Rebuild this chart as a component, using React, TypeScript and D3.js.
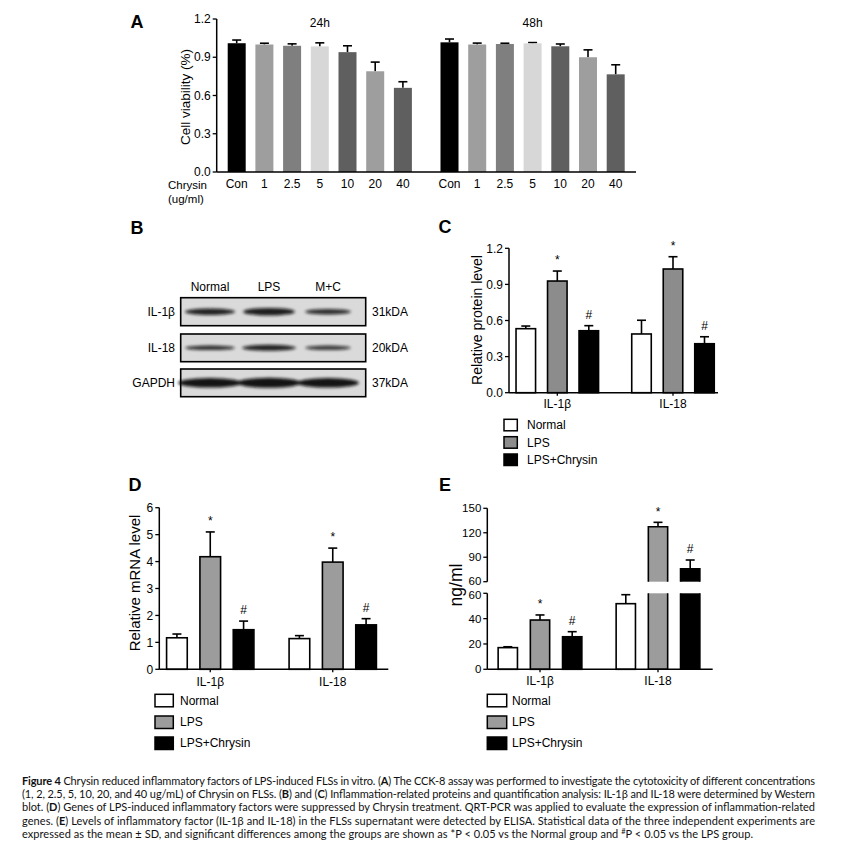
import React from 'react';
import * as d3 from 'd3';

// ---------- DATA ----------
const concLabels = ['Con', '1', '2.5', '5', '10', '20', '40'];
const timeGroups = ['24h', '48h'];
const viability24 = [1.01, 1.0, 0.99, 0.985, 0.94, 0.79, 0.66];
const viabilitySd24 = [0.025, 0.01, 0.015, 0.028, 0.05, 0.072, 0.048];
const viability48 = [1.017, 1.0, 1.004, 1.009, 0.986, 0.9, 0.766];
const viabilitySd48 = [0.026, 0.011, 0.006, 0.006, 0.018, 0.058, 0.075];
const concColors = ['#000000', '#9e9e9e', '#7f7f7f', '#d7d7d7', '#5f5f5f', '#9e9e9e', '#5f5f5f'];
const viabilityTicks = [0, 0.3, 0.6, 0.9, 1.2];

const genes = ['IL-1β', 'IL-18'];
const groups = ['Normal', 'LPS', 'LPS+Chrysin'];
const sigMarks = ['', '*', '#'];

const proteinMean = [[0.532, 0.928, 0.515], [0.488, 1.028, 0.407]];
const proteinSd = [[0.022, 0.083, 0.042], [0.114, 0.102, 0.058]];
const proteinTicks = [0, 0.3, 0.6, 0.9, 1.2];

const mrnaMean = [[1.17, 4.18, 1.47], [1.14, 3.98, 1.65]];
const mrnaSd = [[0.14, 0.92, 0.32], [0.11, 0.52, 0.23]];
const mrnaTicks = [0, 1, 2, 3, 4, 5, 6];

const elisaMean = [[17.1, 38.9, 25.7], [51.8, 127.4, 75.9]];
const elisaSd = [[0.7, 4.0, 4.0], [7.1, 5.4, 10.7]];
const elisaLowTicks = [0, 20, 40, 60];
const elisaHighTicks = [60, 90, 120, 150];

const blotLanes = ['Normal', 'LPS', 'M+C'];
const blotRows = ['IL-1β', 'IL-18', 'GAPDH'];
const blotKda = ['31kDA', '20kDA', '37kDA'];
const bandIntensity = [[0.9, 0.92, 0.85], [0.85, 0.9, 0.8], [0.97, 0.97, 0.97]];
const bandThickness = [[6.5, 7.5, 5.5], [4.5, 6, 4.5], [9.5, 10, 9.5]];
const bandWidth = [[50, 52, 46], [50, 54, 46], [64, 64, 62]];

const captionLines = [
  [['Figure 4', true], [' Chrysin reduced inflammatory factors of LPS-induced FLSs in vitro. (', false], ['A', true], [') The CCK-8 assay was performed to investigate the cytotoxicity of different concentrations', false]],
  [['(1, 2, 2.5, 5, 10, 20, and 40 ug/mL) of Chrysin on FLSs. (', false], ['B', true], [') and (', false], ['C', true], [') Inflammation-related proteins and quantification analysis: IL-1β and IL-18 were determined by Western', false]],
  [['blot. (', false], ['D', true], [') Genes of LPS-induced inflammatory factors were suppressed by Chrysin treatment. QRT-PCR was applied to evaluate the expression of inflammation-related', false]],
  [['genes. (', false], ['E', true], [') Levels of inflammatory factor (IL-1β and IL-18) in the FLSs supernatant were detected by ELISA. Statistical data of the three independent experiments are', false]],
];
const captionLast = 'expressed as the mean ± SD, and significant differences among the groups are shown as *P < 0.05 vs the Normal group and ';
const captionLastEnd = 'P < 0.05 vs the LPS group.';

// ---------- STYLE ----------
const FONT = '"Liberation Sans", Arial, sans-serif';
const CAPFONT = 'Lato, "Open Sans", sans-serif';
const seriesFill = ['#ffffff', '#8c8c8c', '#000000'];
const seriesFillLight = ['#ffffff', '#9c9c9c', '#000000'];

function YAxis({ x, scale, ticks, fmt, fontSize = 12, labelShift = 0 }: any) {
  const [d0, d1] = scale.domain();
  return (
    <g>
      <line x1={x} x2={x} y1={scale(d0)} y2={scale(d1)} stroke="#000" strokeWidth={1.5} />
      {ticks.map((t: number, i: number) => (
        <g key={t}>
          <line x1={x - 4} x2={x} y1={scale(t)} y2={scale(t)} stroke="#000" strokeWidth={1.3} />
          <text x={x - 6} y={scale(t) + (i === 0 ? labelShift : 0)} dy="0.35em" textAnchor="end" fontSize={fontSize} fontFamily={FONT}>{fmt(t)}</text>
        </g>
      ))}
    </g>
  );
}

function ErrorBar({ cx, yTop, yErr, w = 9 }: any) {
  return (
    <g stroke="#000" strokeWidth={1.6}>
      <line x1={cx} x2={cx} y1={yTop} y2={yErr} />
      <line x1={cx - w / 2} x2={cx + w / 2} y1={yErr} y2={yErr} />
    </g>
  );
}

function Legend({ x, ys, boxW, boxH, textX, fills }: any) {
  return (
    <g>
      {groups.map((g, i) => (
        <g key={g}>
          <rect x={x} y={ys[i]} width={boxW} height={boxH} fill={fills[i]} stroke="#000" strokeWidth={1.5} />
          <text x={textX} y={ys[i] + boxH / 2} dy="0.35em" fontSize={12} fontFamily={FONT}>{g}</text>
        </g>
      ))}
    </g>
  );
}

function PanelA() {
  const y = d3.scaleLinear().domain([0, 1.2]).range([172, 19]);
  const xs = [
    d3.scaleBand().domain(concLabels).range([222.85, 416.75]).paddingInner(0.35).paddingOuter(0.175),
    d3.scaleBand().domain(concLabels).range([435.65, 629.55]).paddingInner(0.35).paddingOuter(0.175),
  ];
  const data = [viability24, viability48];
  const sds = [viabilitySd24, viabilitySd48];
  return (
    <g>
      <text x={137} y={22} dy="0.35em" textAnchor="middle" fontSize={18} fontWeight="bold" fontFamily={FONT}>A</text>
      <text transform="translate(185,97) rotate(-90)" textAnchor="middle" dy="0.35em" fontSize={13.5} fontFamily={FONT}>Cell viability (%)</text>
      {timeGroups.map((tg, gi) => {
        const x = xs[gi];
        const r = x.range();
        return (
          <g key={tg}>
            <text x={(r[0] + r[1]) / 2} y={23} dy="0.35em" textAnchor="middle" fontSize={12} fontFamily={FONT}>{tg}</text>
            {concLabels.map((c, i) => {
              const bx = x(c)!;
              const bw = x.bandwidth();
              return (
                <g key={c}>
                  <ErrorBar cx={bx + bw / 2} yTop={y(data[gi][i])} yErr={y(data[gi][i] + sds[gi][i])} w={9} />
                  <rect x={bx} y={y(data[gi][i])} width={bw} height={y(0) - y(data[gi][i])} fill={concColors[i]} />
                  <text x={bx + bw / 2} y={184} dy="0.35em" textAnchor="middle" fontSize={12} fontFamily={FONT}>{c}</text>
                </g>
              );
            })}
          </g>
        );
      })}
      <line x1={216.7} x2={636} y1={172} y2={172} stroke="#000" strokeWidth={1.5} />
      <YAxis x={216.7} scale={y} ticks={viabilityTicks} fmt={d3.format('.1f')} />
      <text x={168} y={185} dy="0.35em" fontSize={11.5} fontFamily={FONT}>Chrysin</text>
      <text x={168} y={198.5} dy="0.35em" fontSize={11.5} fontFamily={FONT}>(ug/ml)</text>
    </g>
  );
}

function PanelB() {
  const lane = d3.scalePoint().domain(blotLanes).range([210, 328]);
  const rowBoxes = [[297.7, 325.7], [334, 361.7], [369, 396.7]];
  return (
    <g>
      <defs>
        <filter id="blur" x="-20%" y="-100%" width="140%" height="300%">
          <feGaussianBlur stdDeviation="1.5" />
        </filter>
      </defs>
      <text x={137} y={228} dy="0.35em" textAnchor="middle" fontSize={18} fontWeight="bold" fontFamily={FONT}>B</text>
      {blotLanes.map((l) => (
        <text key={l} x={lane(l)} y={287} dy="0.35em" textAnchor="middle" fontSize={12} fontFamily={FONT}>{l}</text>
      ))}
      {blotRows.map((r, ri) => {
        const [y0, y1] = rowBoxes[ri];
        const cy = (y0 + y1) / 2;
        return (
          <g key={r}>
            <rect x={180.7} y={y0} width={185} height={y1 - y0} fill="#dadada" />
            <g filter="url(#blur)">
              {blotLanes.map((l, li) => (
                <ellipse key={l} cx={lane(l)!} cy={cy} rx={bandWidth[ri][li] / 2} ry={bandThickness[ri][li] / 2}
                  fill="#111" opacity={bandIntensity[ri][li]} />
              ))}
            </g>
            <rect x={180.7} y={y0} width={185} height={y1 - y0} fill="none" stroke="#000" strokeWidth={1.6} />
            <text x={175} y={cy} dy="0.35em" textAnchor="end" fontSize={12} fontFamily={FONT}>{r}</text>
            <text x={372} y={cy} dy="0.35em" fontSize={12} fontFamily={FONT}>{blotKda[ri]}</text>
          </g>
        );
      })}
    </g>
  );
}

function GroupedPanel({ letter, letterPos, label, labelPos, labelSize, yDomain, yRange, ticks, fmt, axisX, axisEnd, gStart, gStep, innerW, mean, sd, fills, legendYs, legendBox, legendX, legendTextX, catY }: any) {
  const y = d3.scaleLinear().domain(yDomain).range(yRange);
  const gx = d3.scaleBand().domain(genes).range([gStart, gStart + gStep * 2]);
  const ix = d3.scaleBand().domain(groups).range([-innerW / 2, innerW / 2]).paddingInner(0.38).paddingOuter(0.19);
  return (
    <g>
      <text x={letterPos[0]} y={letterPos[1]} dy="0.35em" textAnchor="middle" fontSize={18} fontWeight="bold" fontFamily={FONT}>{letter}</text>
      <text transform={`translate(${labelPos[0]},${labelPos[1]}) rotate(-90)`} textAnchor="middle" dy="0.35em" fontSize={labelSize} fontFamily={FONT}>{label}</text>
      {genes.map((g, gi) => {
        const c = gx(g)! + gx.bandwidth() / 2;
        return (
          <g key={g}>
            {groups.map((s, si) => {
              const bx = c + ix(s)!;
              const bw = ix.bandwidth();
              const v = mean[gi][si];
              const e = v + sd[gi][si];
              return (
                <g key={s}>
                  <ErrorBar cx={bx + bw / 2} yTop={y(v)} yErr={y(e)} />
                  <rect x={bx} y={y(v)} width={bw} height={y(0) - y(v)} fill={fills[si]} stroke="#000" strokeWidth={1.6} />
                  {sigMarks[si] && (
                    <text x={bx + bw / 2} y={y(e) - 11} dy="0.35em" textAnchor="middle" fontSize={12} fontFamily={FONT}>{sigMarks[si]}</text>
                  )}
                </g>
              );
            })}
            <line x1={c} x2={c} y1={y(0)} y2={y(0) + 3} stroke="#000" strokeWidth={1.3} />
            <text x={c} y={catY} dy="0.35em" textAnchor="middle" fontSize={12} fontFamily={FONT}>{g}</text>
          </g>
        );
      })}
      <line x1={axisX} x2={axisEnd} y1={y(0)} y2={y(0)} stroke="#000" strokeWidth={1.5} />
      <YAxis x={axisX} scale={y} ticks={ticks} fmt={fmt} />
      <Legend x={legendX} ys={legendYs} boxW={legendBox[0]} boxH={legendBox[1]} textX={legendTextX} fills={fills} />
    </g>
  );
}

function PanelE() {
  const yLow = d3.scaleLinear().domain([0, 60]).range([669.3, 593.3]);
  const yHigh = d3.scaleLinear().domain([60, 150]).range([581.7, 508.3]);
  const axisX = 487.3;
  const gx = d3.scaleBand().domain(genes).range([481, 481 + 118 * 2]);
  const innerW = 96.6;
  const ix = d3.scaleBand().domain(groups).range([-innerW / 2, innerW / 2]).paddingInner(0.4).paddingOuter(0.2);
  const fills = seriesFillLight;
  return (
    <g>
      <text x={445} y={485} dy="0.35em" textAnchor="middle" fontSize={18} fontWeight="bold" fontFamily={FONT}>E</text>
      <text transform="translate(456,585) rotate(-90)" textAnchor="middle" dy="0.35em" fontSize={17.5} fontFamily={FONT}>ng/ml</text>
      {genes.map((g, gi) => {
        const c = gx(g)! + gx.bandwidth() / 2;
        return (
          <g key={g}>
            {groups.map((s, si) => {
              const bx = c + ix(s)!;
              const bw = ix.bandwidth();
              const v = elisaMean[gi][si];
              const e = v + elisaSd[gi][si];
              const cx = bx + bw / 2;
              if (v <= 60) {
                return (
                  <g key={s}>
                    <ErrorBar cx={cx} yTop={yLow(v)} yErr={yLow(e)} />
                    <rect x={bx} y={yLow(v)} width={bw} height={yLow(0) - yLow(v)} fill={fills[si]} stroke="#000" strokeWidth={1.6} />
                    {sigMarks[si] && <text x={cx} y={yLow(e) - 11} dy="0.35em" textAnchor="middle" fontSize={12} fontFamily={FONT}>{sigMarks[si]}</text>}
                  </g>
                );
              }
              return (
                <g key={s}>
                  <ErrorBar cx={cx} yTop={yHigh(v)} yErr={yHigh(e)} />
                  <rect x={bx} y={yHigh(v)} width={bw} height={yHigh(60) - yHigh(v)} fill={fills[si]} />
                  <path d={`M${bx},${yHigh(60)}V${yHigh(v)}H${bx + bw}V${yHigh(60)}`} fill="none" stroke="#000" strokeWidth={1.6} />
                  <rect x={bx} y={yLow(60)} width={bw} height={yLow(0) - yLow(60)} fill={fills[si]} />
                  <path d={`M${bx},${yLow(60)}V${yLow(0)}H${bx + bw}V${yLow(60)}`} fill="none" stroke="#000" strokeWidth={1.6} />
                  {sigMarks[si] && <text x={cx} y={yHigh(e) - 11} dy="0.35em" textAnchor="middle" fontSize={12} fontFamily={FONT}>{sigMarks[si]}</text>}
                </g>
              );
            })}
            <line x1={c} x2={c} y1={yLow(0)} y2={yLow(0) + 3} stroke="#000" strokeWidth={1.3} />
            <text x={c} y={681} dy="0.35em" textAnchor="middle" fontSize={12} fontFamily={FONT}>{g}</text>
          </g>
        );
      })}
      <line x1={axisX} x2={712.7} y1={yLow(0)} y2={yLow(0)} stroke="#000" strokeWidth={1.5} />
      <YAxis x={axisX} scale={yLow} ticks={[...elisaLowTicks].reverse()} fmt={d3.format('d')} fontSize={11.5} labelShift={1.2} />
      <YAxis x={axisX} scale={yHigh} ticks={elisaHighTicks} fmt={d3.format('d')} fontSize={11.5} labelShift={-1.2} />
      <Legend x={487.3} ys={[694.3, 716, 737]} boxW={19.4} boxH={12.5} textX={512} fills={fills} />
    </g>
  );
}

function Caption() {
  const x0 = 22;
  const baseY = 784.5;
  const lh = 13.4;
  const widths = [793, 793, 793, 793];
  return (
    <g fontFamily={CAPFONT} fontSize={11} fill="#111">
      {captionLines.map((line, li) => (
        <text key={li} x={x0} y={baseY + li * lh} textLength={widths[li]} lengthAdjust="spacing">
          {line.map((seg: any, si: number) => (
            <tspan key={si} fontWeight={seg[1] ? 'bold' : 'normal'}>{seg[0]}</tspan>
          ))}
        </text>
      ))}
      <text x={x0} y={baseY + 4 * lh} textLength={731} lengthAdjust="spacing">
        <tspan>{captionLast}</tspan>
        <tspan fontSize={7.5} dy={-4}>#</tspan>
        <tspan dy={4}>{captionLastEnd}</tspan>
      </text>
    </g>
  );
}

export default function App() {
  return (
    <svg width={864} height={857} style={{ position: 'absolute', left: 0, top: 0, background: '#fff' }}>
      <rect width={864} height={857} fill="#fff" />
      <PanelA />
      <PanelB />
      <GroupedPanel
        letter="C" letterPos={[445, 227]}
        label="Relative protein level" labelPos={[477, 320]} labelSize={14}
        yDomain={[0, 1.2]} yRange={[392.7, 248.3]} ticks={proteinTicks} fmt={d3.format('.1f')}
        axisX={509} axisEnd={718} gStart={499.45} gStep={115.7} innerW={94.5}
        mean={proteinMean} sd={proteinSd} fills={seriesFill}
        legendYs={[419.3, 436.7, 454]} legendBox={[13.3, 11.5]} legendX={504} legendTextX={527}
        catY={403.5}
      />
      <GroupedPanel
        letter="D" letterPos={[135, 485]}
        label="Relative mRNA level" labelPos={[135, 583]} labelSize={15}
        yDomain={[0, 6]} yRange={[669.3, 507.7]} ticks={mrnaTicks} fmt={d3.format('d')}
        axisX={159.3} axisEnd={388.3} gStart={149} gStep={122.5} innerW={100}
        mean={mrnaMean} sd={mrnaSd} fills={seriesFillLight}
        legendYs={[694.3, 716, 737]} legendBox={[18.3, 12.5]} legendX={155} legendTextX={180}
        catY={682}
      />
      <PanelE />
      <Caption />
    </svg>
  );
}
